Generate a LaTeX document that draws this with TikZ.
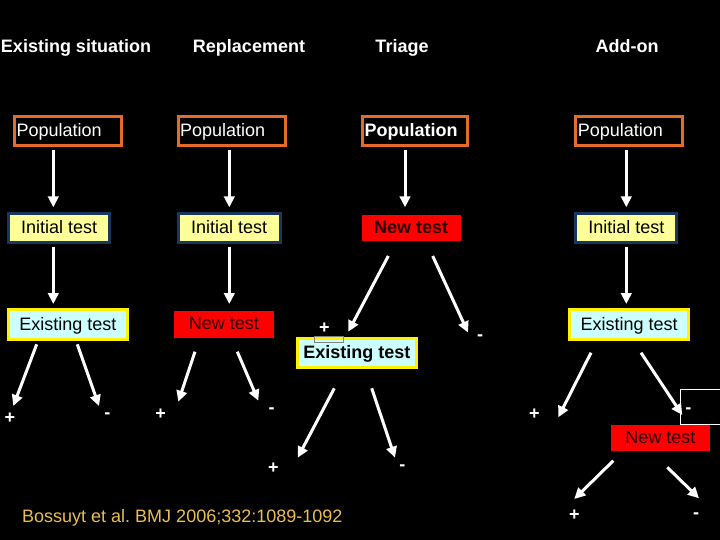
\documentclass[tikz,border=0pt]{standalone}
\usepackage{fontspec}
\setmainfont{Liberation Sans}
\usetikzlibrary{arrows.meta}
\definecolor{popor}{RGB}{228,108,40}
\definecolor{navy}{RGB}{23,55,94}
\definecolor{lyel}{RGB}{255,255,153}
\definecolor{lcyan}{RGB}{204,255,255}
\definecolor{ntred}{RGB}{255,0,0}
\definecolor{ntxt}{RGB}{45,0,0}
\definecolor{refgold}{RGB}{235,190,80}
\begin{document}
\begin{tikzpicture}[x=1pt,y=-1pt,
  every node/.style={font=\fontsize{18}{20}\selectfont, inner sep=0pt},
  title/.style={text=white, font=\fontsize{18}{20}\selectfont\bfseries, anchor=base},
  boxtext/.style={text height=15pt, text depth=4pt},
  popbox/.style={boxtext, draw=popor, line width=3pt, text=white, minimum height=29.3pt, text width=103pt, inner xsep=2pt, align=left},
  initbox/.style={boxtext, draw=navy, fill=lyel, line width=3pt, text=black, minimum height=28pt, align=center},
  exbox/.style={boxtext, draw=yellow, fill=lcyan, line width=3pt, text=black, minimum height=29.4pt, minimum width=118.5pt, align=center},
  newbox/.style={boxtext, fill=ntred, text=ntxt, minimum height=26pt, minimum width=99pt},
  sign/.style={text=white, font=\fontsize{18}{20}\selectfont\bfseries, anchor=base},
  arr/.style={draw=white, line width=3pt, -{Triangle[length=11pt,width=10.5pt]}},
  boldtxt/.style={font=\fontsize{18}{20}\selectfont\bfseries},
]
\useasboundingbox (0,0) rectangle (720,540);
\fill[black] (0,0) rectangle (720,540);

% titles
\node[title] (t1) at (76,52.3) {Existing situation};
\node[title] (t2) at (249,52.3) {Replacement};
\node[title] (t3) at (402,52.3) {Triage};
\node[title] (t4) at (627,52.3) {Add-on};

% row 1
\node[popbox] (p1) at (68,131.2) {Population};
\node[popbox, text width=103.6pt] (p2) at (232,131.2) {Population};
\node[popbox, boldtxt, text width=101pt] (p3) at (415,131) {Population};
\node[popbox] (p4) at (629.3,131) {Population};

% row 2
\node[initbox, minimum width=100.7pt] (i1) at (59.2,228) {Initial test};
\node[initbox, minimum width=102pt] (i2) at (229.2,228) {Initial test};
\node[newbox, boldtxt] (n3) at (411.2,228) {New test};
\node[initbox, minimum width=101pt, minimum height=28.7pt] (i4) at (626.3,228.2) {Initial test};

% row 3
\node[exbox] (e1) at (68,324.5) {Existing test};
\node[newbox, minimum width=100pt, minimum height=27pt] (n2) at (224,324.2) {New test};
\node[exbox] (e4) at (629.2,324.5) {Existing test};
\node[exbox, boldtxt, minimum height=29pt] (e3) at (356.8,353.3) {Existing test};
\node[newbox] (n4) at (660.5,438) {New test};

% artifact frames
\draw[gray, line width=0.8pt] (314.3,336.7) rectangle (343.3,342.3);
\draw[white, line width=0.8pt] (680,389) rectangle (724,424);

% signs
\node[sign] (s1p) at (10,423.6) {+};
\node[sign] (s1m) at (107.3,418.2) {-};
\node[sign] (s2p) at (160.7,419.6) {+};
\node[sign] (s2m) at (271.7,413.2) {-};
\node[sign] (s3p) at (324.3,333) {+};
\node[sign] (s3m) at (480,340.9) {-};
\node[sign] (s5p) at (273.3,473.6) {+};
\node[sign] (s5m) at (402.3,470.2) {-};
\node[sign] (s4p) at (534.3,419.6) {+};
\node[sign] (s4m) at (688.3,413.2) {-};
\node[sign] (s6p) at (574.3,520.3) {+};
\node[sign] (s6m) at (696,518.9) {-};

% reference
\node[text=refgold, anchor=base west] (ref) at (22,522.7) {Bossuyt et al.\ BMJ 2006;332:1089-1092};

% arrow end points
\coordinate (a1s) at (53.3,150);   \coordinate (a1e) at (53.3,207.3);
\coordinate (a2s) at (53.3,246.7); \coordinate (a2e) at (53.3,304);
\coordinate (b1s) at (229.3,150);  \coordinate (b1e) at (229.3,207.3);
\coordinate (b2s) at (229.3,246.7);\coordinate (b2e) at (229.3,304);
\coordinate (c1s) at (405,150);    \coordinate (c1e) at (405,207.3);
\coordinate (d1s) at (626.3,150);  \coordinate (d1e) at (626.3,207.3);
\coordinate (d2s) at (626.3,246.7);\coordinate (d2e) at (626.3,304);
\coordinate (a3s) at (36.7,344.3); \coordinate (a3e) at (13.3,406);
\coordinate (a4s) at (77.3,344.3); \coordinate (a4e) at (99,406);
\coordinate (b3s) at (195,351.7);  \coordinate (b3e) at (178.3,401.7);
\coordinate (b4s) at (237.3,351.7);\coordinate (b4e) at (258.3,400.7);
\coordinate (c2s) at (388.3,256);  \coordinate (c2e) at (348.3,331.7);
\coordinate (c3s) at (432.7,256);  \coordinate (c3e) at (468,332.5);
\coordinate (c4s) at (334.3,388.3);\coordinate (c4e) at (297.7,457.7);
\coordinate (c5s) at (371.7,388.3);\coordinate (c5e) at (395,457.7);
\coordinate (d3s) at (591,352.7);  \coordinate (d3e) at (558.3,417.3);
\coordinate (d4s) at (641,352.7);  \coordinate (d4e) at (682.3,415);
\coordinate (d5s) at (613.3,460.7);\coordinate (d5e) at (574.3,499);
\coordinate (d6s) at (667.3,467.3);\coordinate (d6e) at (699,498.3);

\foreach \s/\e in {a1s/a1e,a2s/a2e,b1s/b1e,b2s/b2e,c1s/c1e,d1s/d1e,d2s/d2e,
  a3s/a3e,a4s/a4e,b3s/b3e,b4s/b4e,c2s/c2e,c3s/c3e,c4s/c4e,c5s/c5e,
  d3s/d3e,d4s/d4e,d5s/d5e,d6s/d6e}
  \draw[arr] (\s) -- (\e);
\end{tikzpicture}
\end{document}
